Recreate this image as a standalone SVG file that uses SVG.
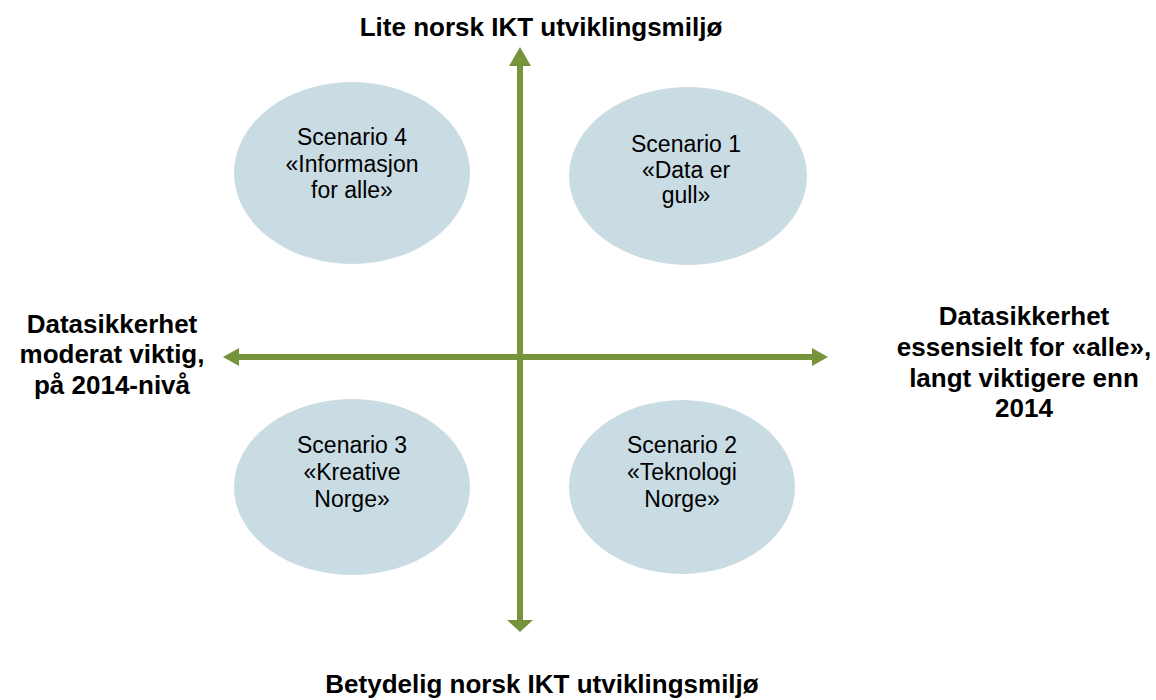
<svg xmlns="http://www.w3.org/2000/svg" width="1156" height="700" viewBox="0 0 1156 700">
  <style>
    .axis { stroke: #77933c; stroke-width: 6; fill: none; }
    .head { fill: #77933c; }
    .bubble { fill: #c9dbe3; }
    .label { font-family: "Liberation Sans", Arial, sans-serif; font-size: 26px; font-weight: bold; fill: #000; text-anchor: middle; }
    .scen { font-family: "Liberation Sans", Arial, sans-serif; font-size: 23px; fill: #000; text-anchor: middle; }
  </style>
  <rect width="1156" height="700" fill="#ffffff"/>

  <!-- axes -->
  <g id="connectors">
    <line class="axis" x1="520" y1="64" x2="520" y2="622"/>
    <polygon class="head" points="520,47 531,66 509,66"/>
    <polygon class="head" points="520,632 533,620 507,620"/>
    <line class="axis" x1="237" y1="357" x2="814" y2="357"/>
    <polygon class="head" points="223,357 239,348 239,366"/>
    <polygon class="head" points="828,357 812,348 812,366"/>
  </g>

  <!-- axis end labels -->
  <g id="label-top">
    <text class="label" x="541" y="36">Lite norsk IKT utviklingsmiljø</text>
  </g>
  <g id="label-bottom">
    <text class="label" x="542" y="693">Betydelig norsk IKT utviklingsmiljø</text>
  </g>
  <g id="label-left">
    <text class="label" x="112" y="333">Datasikkerhet</text>
    <text class="label" x="112" y="363">moderat viktig,</text>
    <text class="label" x="112" y="394">på 2014-nivå</text>
  </g>
  <g id="label-right">
    <text class="label" x="1024" y="325">Datasikkerhet</text>
    <text class="label" x="1024" y="356">essensielt for «alle»,</text>
    <text class="label" x="1024" y="387">langt viktigere enn</text>
    <text class="label" x="1024" y="417">2014</text>
  </g>

  <!-- scenario bubbles -->
  <g id="scenario-4">
    <ellipse class="bubble" cx="352" cy="173" rx="118" ry="91"/>
    <text class="scen" x="352" y="145">Scenario 4</text>
    <text class="scen" x="352" y="172">«Informasjon</text>
    <text class="scen" x="352" y="198">for alle»</text>
  </g>
  <g id="scenario-1">
    <ellipse class="bubble" cx="688" cy="176" rx="119" ry="89"/>
    <text class="scen" x="686" y="152">Scenario 1</text>
    <text class="scen" x="686" y="178">«Data er</text>
    <text class="scen" x="686" y="203">gull»</text>
  </g>
  <g id="scenario-3">
    <ellipse class="bubble" cx="352" cy="487" rx="118" ry="88"/>
    <text class="scen" x="352" y="453">Scenario 3</text>
    <text class="scen" x="352" y="480">«Kreative</text>
    <text class="scen" x="352" y="507">Norge»</text>
  </g>
  <g id="scenario-2">
    <ellipse class="bubble" cx="682" cy="487" rx="113" ry="87"/>
    <text class="scen" x="682" y="453">Scenario 2</text>
    <text class="scen" x="682" y="480">«Teknologi</text>
    <text class="scen" x="682" y="507">Norge»</text>
  </g>
</svg>
